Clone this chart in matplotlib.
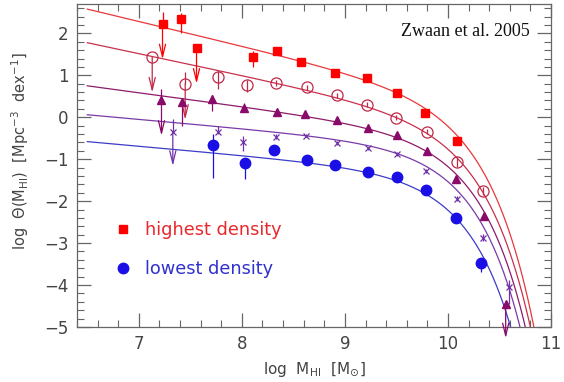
import matplotlib

matplotlib.use("Agg")
import matplotlib.pyplot as plt
import numpy as np
from matplotlib.lines import Line2D
from matplotlib.ticker import MultipleLocator

# ---------------------------------------------------------------------------
# Data (log M_HI, log Theta), five density classes
# ---------------------------------------------------------------------------

NAN = np.nan

# highest density: filled red squares
hi_x = [7.23, 7.41, 7.56, 8.11, 8.34, 8.57, 8.90, 9.21, 9.51, 9.78, 10.09]
hi_y = [2.22, 2.35, 1.65, 1.43, 1.58, 1.31, 1.06, 0.93, 0.57, 0.10, -0.56]
hi_elo = [0.0, 0.35, 0.0, 0.22, 0.08, 0.05, 0.05, 0.04, 0.04, 0.05, 0.08]
hi_ehi = [0.28, 0.13, 0.0, 0.16, 0.08, 0.05, 0.05, 0.04, 0.04, 0.05, 0.08]
hi_lim = [1.38, NAN, 0.80, NAN, NAN, NAN, NAN, NAN, NAN, NAN, NAN]

# second: open circles
d2_x = [7.13, 7.45, 7.77, 8.05, 8.33, 8.63, 8.92, 9.21, 9.50, 9.80, 10.09, 10.34]
d2_y = [1.43, 0.80, 0.97, 0.77, 0.82, 0.71, 0.53, 0.30, -0.01, -0.35, -1.06, -1.76]
d2_elo = [0.0, 0.0, 0.29, 0.17, 0.08, 0.07, 0.06, 0.06, 0.06, 0.06, 0.12, 0.10]
d2_ehi = [0.0, 0.27, 0.14, 0.11, 0.08, 0.07, 0.06, 0.06, 0.06, 0.06, 0.12, 0.10]
d2_lim = [0.59, -0.06, NAN, NAN, NAN, NAN, NAN, NAN, NAN, NAN, NAN, NAN]

# third: filled triangles
d3_x = [7.22, 7.42, 7.71, 8.02, 8.34, 8.61, 8.92, 9.22, 9.51, 9.80, 10.08, 10.35, 10.56]
d3_y = [0.40, 0.36, 0.44, 0.23, 0.12, 0.08, -0.06, -0.25, -0.42, -0.80, -1.48, -2.35, -4.45]
d3_elo = [0.0, 0.56, 0.28, 0.10, 0.05, 0.04, 0.04, 0.04, 0.04, 0.05, 0.06, 0.08, 0.0]
d3_ehi = [0.28, 0.09, 0.08, 0.12, 0.05, 0.04, 0.04, 0.04, 0.04, 0.05, 0.06, 0.08, 0.0]
d3_lim = [-0.44, NAN, NAN, NAN, NAN, NAN, NAN, NAN, NAN, NAN, NAN, NAN, -5.27]

# fourth: crosses
d4_x = [7.33, 7.77, 8.01, 8.33, 8.62, 8.92, 9.22, 9.51, 9.79, 10.09, 10.34, 10.59]
d4_y = [-0.34, -0.34, -0.58, -0.46, -0.44, -0.61, -0.74, -0.88, -1.28, -1.94, -2.87, -4.05]
d4_elo = [0.0, 0.05, 0.22, 0.05, 0.04, 0.04, 0.04, 0.04, 0.05, 0.06, 0.08, 0.40]
d4_ehi = [0.30, 0.14, 0.14, 0.05, 0.04, 0.04, 0.04, 0.04, 0.05, 0.06, 0.08, 0.17]
d4_lim = [-1.16, NAN, NAN, NAN, NAN, NAN, NAN, NAN, NAN, NAN, NAN, NAN]

# lowest density: filled blue circles
lo_x = [7.72, 8.03, 8.31, 8.63, 8.90, 9.22, 9.51, 9.79, 10.08, 10.32]
lo_y = [-0.66, -1.09, -0.78, -1.02, -1.13, -1.30, -1.42, -1.74, -2.41, -3.47]
lo_elo = [0.78, 0.39, 0.05, 0.05, 0.04, 0.04, 0.04, 0.05, 0.06, 0.23]
lo_ehi = [0.27, 0.12, 0.05, 0.05, 0.04, 0.04, 0.04, 0.05, 0.06, 0.11]

# Schechter fits: log Theta = c + (alpha+1)(x - m*) - 10^(x-m*)/ln10
fit_logc = [0.656, 0.072, -0.3225, -0.648, -1.284]
fit_alpha = [-1.588, -1.52, -1.33, -1.22, -1.22]
fit_mstar = [9.77, 9.78, 9.75, 9.72, 9.70]

curve_colors = ["#e8383c", "#c8304c", "#8e1a6a", "#7a3aa8", "#3c3cc8"]
point_colors = ["#ff0000", "#c02848", "#8a0a6a", "#7030a8", "#1a10e6"]


def schechter(x, logc, alpha, mstar):
    d = x - mstar
    return logc + (alpha + 1.0) * d - 10.0 ** d / np.log(10.0)


def draw_limits(ax, xs, ys, lims, color):
    for x, y, lim in zip(xs, ys, lims):
        if np.isnan(lim):
            continue
        ax.annotate(
            "",
            xy=(x, lim),
            xytext=(x, y),
            annotation_clip=False,
            arrowprops=dict(
                arrowstyle="->,head_length=0.9,head_width=0.22",
                color=color,
                lw=0.9,
                shrinkA=0,
                shrinkB=0,
            ),
        )


fig = plt.figure(figsize=(5.64, 3.82), dpi=100)
ax = fig.add_axes([0.1365, 0.144, 0.8405, 0.8455])

xs = np.linspace(6.5, 11.0, 600)
for logc, alpha, mstar, col in zip(fit_logc, fit_alpha, fit_mstar, curve_colors):
    ax.plot(xs, schechter(xs, logc, alpha, mstar), color=col, lw=0.9, zorder=2)

sets = [
    (hi_x, hi_y, hi_elo, hi_ehi, hi_lim, "s", 6.0, True, 1.0),
    (d2_x, d2_y, d2_elo, d2_ehi, d2_lim, "o", 8.0, False, 0.9),
    (d3_x, d3_y, d3_elo, d3_ehi, d3_lim, "^", 6.0, True, 1.0),
    (d4_x, d4_y, d4_elo, d4_ehi, d4_lim, "x", 5.0, False, 0.9),
    (lo_x, lo_y, lo_elo, lo_ehi, None, "o", 7.5, True, 1.0),
]

for (x, y, elo, ehi, lim, mk, ms, filled, mew), col in zip(sets, point_colors):
    ax.errorbar(
        x,
        y,
        yerr=[elo, ehi],
        fmt="none",
        ecolor=col,
        elinewidth=0.9,
        capsize=0,
        zorder=3,
    )
    ax.plot(
        x,
        y,
        linestyle="none",
        marker=mk,
        markersize=ms,
        markerfacecolor=col if filled else "none",
        markeredgecolor=col,
        markeredgewidth=mew,
        zorder=4,
    )
    if lim is not None:
        draw_limits(ax, x, y, lim, col)

ax.set_xlim(6.4, 11.0)
ax.set_ylim(-5.0, 2.7)
ax.xaxis.set_major_locator(MultipleLocator(1))
ax.xaxis.set_minor_locator(MultipleLocator(0.2))
ax.yaxis.set_major_locator(MultipleLocator(1))
ax.yaxis.set_minor_locator(MultipleLocator(0.2))
ax.tick_params(
    which="both", direction="in", top=True, right=True, color="#666666"
)
ax.tick_params(which="major", length=10, width=0.9, labelsize=12,
               labelcolor="#444444", pad=6)
ax.tick_params(which="minor", length=5, width=0.8)
ax.set_yticks([2, 1, 0, -1, -2, -3, -4, -5])
ax.set_yticklabels(["2", "1", "0", "\u22121", "\u22122", "\u22123", "\u22124", "\u22125"])
for spine in ax.spines.values():
    spine.set_color("#666666")
    spine.set_linewidth(0.9)

ax.set_xlabel(r"log  M$_{\rm HI}$  [M$_{\odot}$]", fontsize=11, color="#444444")
ax.set_ylabel(
    r"log  $\Theta$(M$_{\rm HI}$)  [Mpc$^{-3}$  dex$^{-1}$]",
    fontsize=10.5,
    color="#444444",
)
ax.yaxis.set_label_coords(-0.098, 0.545)
ax.xaxis.set_label_coords(0.5, -0.102)

ax.text(
    0.955,
    0.915,
    "Zwaan et al. 2005",
    transform=ax.transAxes,
    ha="right",
    va="center",
    fontsize=13,
    family="Liberation Serif",
    color="#111111",
)

handles = [
    Line2D([], [], linestyle="none", marker="s", markersize=6,
           color=point_colors[0]),
    Line2D([], [], linestyle="none", marker="o", markersize=7.5,
           color=point_colors[4]),
]
leg = ax.legend(
    handles,
    ["highest density", "lowest density"],
    loc="upper left",
    bbox_to_anchor=(0.053, 0.378),
    frameon=False,
    fontsize=12.8,
    handlelength=0.6,
    handletextpad=0.9,
    labelspacing=1.2,
)
for txt, col in zip(leg.get_texts(), ["#e8282c", "#3030d0"]):
    txt.set_color(col)

fig.savefig("out.png", dpi=100)
